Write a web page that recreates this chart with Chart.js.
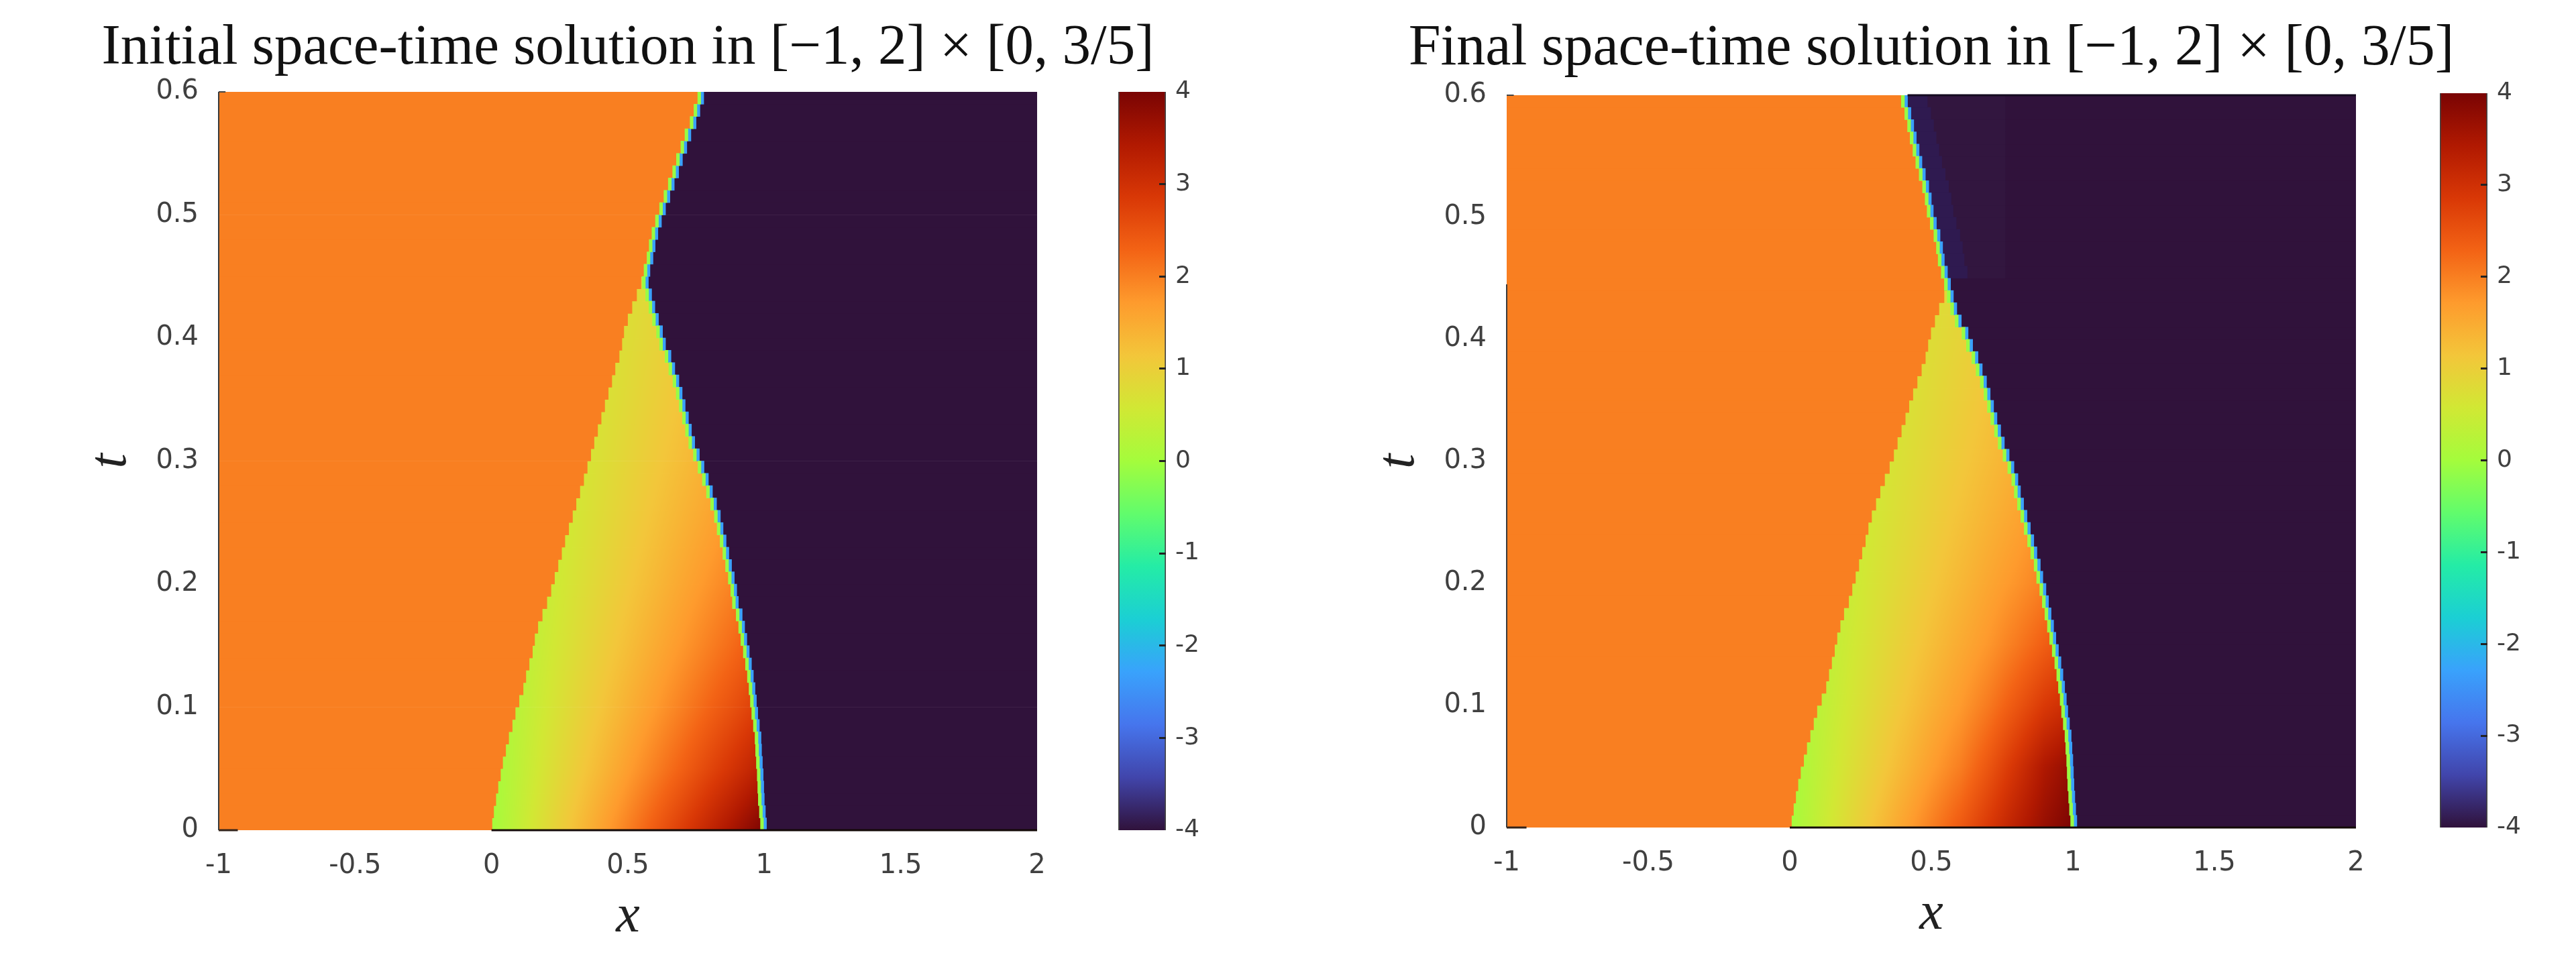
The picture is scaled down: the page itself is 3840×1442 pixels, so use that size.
<!DOCTYPE html>
<html><head><meta charset="utf-8">
<style>
html,body{margin:0;padding:0;background:#fff;width:3840px;height:1442px;overflow:hidden}
canvas{position:absolute;top:0}
</style>
<script src="https://cdn.jsdelivr.net/npm/chart.js@4"></script>
</head><body>
<canvas id="mainA" style="left:0" width="1872" height="1442"></canvas>
<canvas id="mainB" style="left:1959px" width="1840" height="1442"></canvas>
<canvas id="barA" style="left:1600px" width="240" height="1442"></canvas>
<canvas id="barB" style="left:3570px" width="240" height="1442"></canvas>
<script>
const titleA = "Initial space-time solution in [\u22121, 2] \u00d7 [0, 3/5]";
const titleB = "Final space-time solution in [\u22121, 2] \u00d7 [0, 3/5]";
const xLabel = "x", tLabel = "t";
const xTicks = [-1,-0.5,0,0.5,1,1.5,2];
const tTicks = [0,0.1,0.2,0.3,0.4,0.5,0.6];
const cbTicks = [-4,-3,-2,-1,0,1,2,3,4];
const turboStops = ["#30123b","#4145ab","#4675ed","#39a2fc","#1bcfd4","#24eca6","#61fc6c","#a4fc3c","#d1e834","#f3c63a","#fe9b2d","#f36315","#d93806","#b11901","#7a0403"];

// time rows of the space-time mesh
const rowsT = [.005,.015,.025,.035,.045,.055,.065,.075,.085,.095,.105,.115,.125,.135,.145,.155,.165,.175,.185,.195,.205,.215,.225,.235,.245,.255,.265,.275,.285,.295,.305,.315,.325,.335,.345,.355,.365,.375,.385,.395,.405,.415,.425,.435,.445,.455,.465,.475,.485,.495,.505,.515,.525,.535,.545,.555,.565,.575,.585,.595];

// left edge of the fan, rows below the junction
const fanStartA = [.002,.008,.016,.024,.033,.041,.052,.063,.076,.087,.101,.116,.126,.138,.150,.158,.170,.186,.203,.218,.231,.244,.257,.269,.283,.297,.310,.324,.338,.351,.364,.376,.389,.402,.415,.428,.441,.453,.468,.478,.485,.499,.515,.532,.548];
const fanStartB = [.006,.013,.021,.029,.038,.049,.060,.072,.084,.096,.112,.128,.138,.148,.158,.167,.178,.191,.208,.220,.232,.244,.255,.267,.277,.289,.304,.319,.335,.352,.367,.380,.394,.408,.421,.435,.450,.465,.479,.488,.498,.512,.527,.545,.556];

// first x of the low state, every row
const lowStartA = [1.008,1.004,1.000,.998,.996,.993,.990,.988,.982,.976,.971,.966,.960,.953,.945,.936,.928,.919,.905,.899,.890,.880,.870,.860,.849,.839,.825,.810,.795,.779,.762,.745,.733,.722,.710,.699,.687,.672,.658,.638,.627,.612,.599,.587,.575,.581,.592,.600,.610,.623,.638,.654,.670,.686,.700,.716,.731,.750,.764,.778];
const lowStartB = [1.014,1.010,1.007,1.004,1.002,1.000,.997,.994,.988,.982,.977,.971,.965,.958,.949,.940,.932,.923,.914,.905,.894,.885,.873,.862,.850,.838,.826,.815,.806,.792,.775,.758,.745,.732,.720,.708,.695,.680,.665,.646,.630,.606,.590,.578,.568,.557,.546,.540,.531,.518,.507,.500,.491,.479,.467,.457,.447,.438,.428,.416];

// value field inside the fan
const fanX = [0,.1,.2,.3,.4,.5,.6,.7,.8,.9,1];
const fanT = [0,.05,.1,.15,.2,.25,.3,.35,.4,.45];
const fanA0 = [0,.40,.80,1.20,1.60,2.00,2.40,2.80,3.20,3.60,4.00];
const fanA1 = [0,.33,.67,1.00,1.33,1.67,2.00,2.33,2.67,3.00,3.33];
const fanA2 = [0,.29,.57,.86,1.14,1.43,1.71,2.00,2.29,2.57,2.86];
const fanA3 = [0,.25,.50,.75,1.00,1.25,1.50,1.75,2.00,2.25,2.50];
const fanA4 = [0,.22,.44,.67,.89,1.11,1.33,1.56,1.78,2.00,2.22];
const fanA5 = [0,.20,.40,.60,.80,1.00,1.20,1.40,1.60,1.80,2.00];
const fanA6 = [0,.18,.36,.55,.73,.91,1.09,1.27,1.45,1.64,1.82];
const fanA7 = [0,.17,.33,.50,.67,.83,1.00,1.17,1.33,1.50,1.67];
const fanA8 = [0,.15,.31,.46,.62,.77,.92,1.08,1.23,1.38,1.54];
const fanA9 = [0,.14,.29,.43,.57,.71,.86,1.00,1.14,1.29,1.43];
const fanB0 = [0,.40,.80,1.20,1.60,2.00,2.40,2.85,3.30,3.70,4.00];
const fanB1 = [0,.33,.67,1.00,1.33,1.67,2.00,2.45,2.95,3.45,3.75];
const fanB2 = [0,.29,.57,.86,1.14,1.43,1.71,2.05,2.45,2.85,3.10];
const fanB3 = [0,.25,.50,.75,1.00,1.25,1.50,1.75,2.05,2.35,2.60];
const fanB4 = fanA4, fanB5 = fanA5, fanB6 = fanA6, fanB7 = fanA7, fanB8 = fanA8, fanB9 = fanA9;

const highValue = 2, lowValue = -4;
const wakeEndB = .76;

function hexRgb(h){return [1,3,5].map(i=>parseInt(h.substr(i,2),16));}
const stopsRgb = turboStops.map(hexRgb);
function cmap(v){
  const p = Math.max(0,Math.min(1,(v+4)/8))*(stopsRgb.length-1);
  const i = Math.min(stopsRgb.length-2,Math.floor(p)), f = p-i;
  return stopsRgb[i].map((c,k)=>Math.round(c+(stopsRgb[i+1][k]-c)*f));
}
const css = v => { const c = cmap(v); return `rgb(${c[0]},${c[1]},${c[2]})`; };

function fieldValue(table,x,t){
  const locate = (arr,v)=>{ let i=0; while(i<arr.length-2 && v>arr[i+1]) i++; return [i,Math.max(0,Math.min(1,(v-arr[i])/(arr[i+1]-arr[i])))]; };
  const [i,fi] = locate(fanX,x), [j,fj] = locate(fanT,t);
  return (table[j][i]*(1-fi)+table[j][i+1]*fi)*(1-fj)+(table[j+1][i]*(1-fi)+table[j+1][i+1]*fi)*fj;
}
function fanPattern(chart,table){
  if(chart.$fanPattern) return chart.$fanPattern;
  const sx = chart.scales.x, st = chart.scales.y;
  const off = document.createElement('canvas');
  off.width = chart.width; off.height = chart.height;
  const g = off.getContext('2d');
  const x0 = Math.floor(sx.getPixelForValue(0))-4, x1 = Math.ceil(sx.getPixelForValue(1.05));
  const y0 = Math.floor(st.getPixelForValue(.47)), y1 = Math.ceil(st.getPixelForValue(0))+2;
  const img = g.createImageData(x1-x0,y1-y0);
  for(let py=y0;py<y1;py++) for(let px=x0;px<x1;px++){
    const c = cmap(fieldValue(table,sx.getValueForPixel(px+.5),Math.max(0,st.getValueForPixel(py+.5))));
    const o = ((py-y0)*(x1-x0)+(px-x0))*4;
    img.data[o]=c[0];img.data[o+1]=c[1];img.data[o+2]=c[2];img.data[o+3]=255;
  }
  g.putImageData(img,x0,y0);
  chart.$fanPattern = chart.ctx.createPattern(off,'no-repeat');
  return chart.$fanPattern;
}

const seam = .011;
function barSet(label,rows,color,order){
  return {type:'bar',label,indexAxis:'y',data:rows,backgroundColor:color,borderWidth:0,
    categoryPercentage:1,barPercentage:1,grouped:false,order};
}
function lineSet(label,pts,color,width){
  return {type:'line',label,indexAxis:'x',data:pts,borderColor:color,borderWidth:width,pointRadius:0,
    fill:false,tension:0,clip:false,order:-1};
}
function mainChart(id,cfg){
  const n = cfg.fanStart.length;
  const high = rowsT.map((t,i)=>({y:t,x:[-1,i<n?cfg.fanStart[i]:cfg.lowStart[i]-2*seam]}));
  const fan = rowsT.slice(0,n).map((t,i)=>({y:t,x:[cfg.fanStart[i],cfg.lowStart[i]-2*seam]}));
  const seamLight = rowsT.map((t,i)=>({y:t,x:[cfg.lowStart[i]-2*seam,cfg.lowStart[i]-seam]}));
  const seamBlue = rowsT.map((t,i)=>({y:t,x:[cfg.lowStart[i]-seam,cfg.lowStart[i]]}));
  const low = rowsT.map((t,i)=>({y:t,x:[cfg.lowStart[i],2]}));
  const table = cfg.table;
  const datasets = [
    barSet('shock light',seamLight,css(-.1),1),
    barSet('shock blue',seamBlue,css(-2.3),1),
    barSet('high state',high,css(highValue),3),
    barSet('fan',fan,ctx=>ctx.chart.chartArea?fanPattern(ctx.chart,table):css(1),3),
    barSet('low state',low,css(lowValue),3),
    lineSet('left axis',cfg.leftAxis,'#3a3a3a',2),
    lineSet('bottom edge',[{x:0,y:0},{x:2,y:0}],'#140a08',3),
    lineSet('tick t0',[{x:-1,y:0},{x:-.93,y:0}],'#33231a',3),
    lineSet('tick t6',[{x:-1,y:.6},{x:-.975,y:.6}],'#444',2)
  ];
  if(cfg.wakeEnd){
    const up = rowsT.slice(n);
    const start = cfg.lowStart.slice(n);
    datasets.splice(4,0,
      barSet('wake inner',up.map((t,i)=>({y:t,x:[start[i],start[i]+.07]})),'#2f1a50',2),
      barSet('wake outer',up.map((t,i)=>({y:t,x:[start[i]+.07,cfg.wakeEnd]})),'#32163f',2));
  }
  if(cfg.topEdge) datasets.push(lineSet('top edge',[{x:cfg.topEdge,y:.6},{x:2,y:.6}],'#140a20',3));
  const tickFont = {family:'"DejaVu Sans"',size:40};
  const labelFont = {family:'"Liberation Serif"',size:80,style:'italic',lineHeight:1};
  return new Chart(document.getElementById(id),{
    type:'bar',
    data:{datasets},
    options:{
      indexAxis:'y',responsive:false,animation:false,devicePixelRatio:1,
      layout:{padding:{left:0,right:0,top:0,bottom:cfg.padBottom}},
      plugins:{legend:{display:false},tooltip:{enabled:false},
        title:{display:true,text:cfg.title,color:'#111',
          font:{family:'"Liberation Serif"',size:cfg.titleSize,weight:'normal',lineHeight:1},
          padding:cfg.titlePad}},
      scales:{
        x:{type:'linear',min:-1,max:2,offset:false,
          grid:{display:false,offset:false},border:{display:false},
          afterBuildTicks:s=>{s.ticks=xTicks.map(value=>({value}));},
          ticks:{color:'#404040',font:tickFont,padding:22,maxRotation:0,autoSkip:false,callback:v=>String(v)},
          title:{display:true,text:xLabel,color:'#222',font:labelFont,padding:0},
          afterFit:s=>{s.height=170;}},
        y:{type:'linear',min:0,max:.6,offset:false,
          grid:{display:false,offset:false},border:{display:false},
          afterBuildTicks:s=>{s.ticks=tTicks.map(value=>({value}));},
          ticks:{color:'#404040',font:tickFont,padding:22,autoSkip:false,callback:v=>String(v)},
          title:{display:true,text:tLabel,color:'#222',font:labelFont,padding:{top:cfg.sideInset-cfg.tOffset,bottom:0}},
          afterFit:s=>{s.width=cfg.sideWidth;}},
        // empty right-hand margin: keeps the title centred on the plot
        spacer:{type:'linear',position:'right',axis:'y',min:0,max:1,
          grid:{display:false},border:{display:false},ticks:{display:false},
          afterFit:s=>{s.width=cfg.sideWidth;}}
      }
    }
  });
}
function colorBar(id,pad){
  return new Chart(document.getElementById(id),{
    type:'bar',
    data:{labels:['u'],datasets:[{label:'colour scale',data:[[cbTicks[0],cbTicks[cbTicks.length-1]]],
      categoryPercentage:1,barPercentage:1,borderWidth:{left:2,right:2,top:0,bottom:0},borderColor:'#444',borderSkipped:false,
      backgroundColor:ctx=>{
        const a = ctx.chart.chartArea; if(!a) return '#888';
        const g = ctx.chart.ctx.createLinearGradient(0,a.bottom,0,a.top);
        turboStops.forEach((c,i)=>g.addColorStop(i/(turboStops.length-1),c));
        return g;
      }}]},
    options:{
      responsive:false,animation:false,devicePixelRatio:1,
      layout:{padding:pad},
      plugins:{legend:{display:false},tooltip:{enabled:false},title:{display:false}},
      scales:{
        x:{display:false},
        y:{type:'linear',position:'right',min:-4,max:4,
          grid:{drawOnChartArea:false,drawTicks:true,tickLength:-10,
            color:c=>Math.abs(c.tick.value)===4?'rgba(0,0,0,0)':'#222',lineWidth:3,z:1},
          border:{display:false},
          afterBuildTicks:s=>{s.ticks=cbTicks.map(value=>({value}));},
          ticks:{color:'#404040',font:{family:'"DejaVu Sans"',size:36},padding:24,autoSkip:false,callback:v=>String(v)},
          afterFit:s=>{s.width=102;}}
      }
    }
  });
}
mainChart('mainA',{title:titleA,titleSize:85,titlePad:{top:30,bottom:22},
  sideWidth:326,sideInset:126,tOffset:0,padBottom:34,
  fanStart:fanStartA,lowStart:lowStartA,
  table:[fanA0,fanA1,fanA2,fanA3,fanA4,fanA5,fanA6,fanA7,fanA8,fanA9],
  leftAxis:[{x:-1,y:0},{x:-1,y:.6}]});
mainChart('mainB',{title:titleB,titleSize:86,titlePad:{top:30,bottom:26},
  sideWidth:287,sideInset:87,tOffset:0,padBottom:38,
  fanStart:fanStartB,lowStart:lowStartB,wakeEnd:wakeEndB,topEdge:lowStartB[59],
  table:[fanB0,fanB1,fanB2,fanB3,fanB4,fanB5,fanB6,fanB7,fanB8,fanB9],
  leftAxis:[{x:-1,y:0},{x:-1,y:.445}]});
colorBar('barA',{left:67,right:0,top:137,bottom:204});
colorBar('barB',{left:67,right:0,top:139,bottom:208});
</script>
</body></html>
